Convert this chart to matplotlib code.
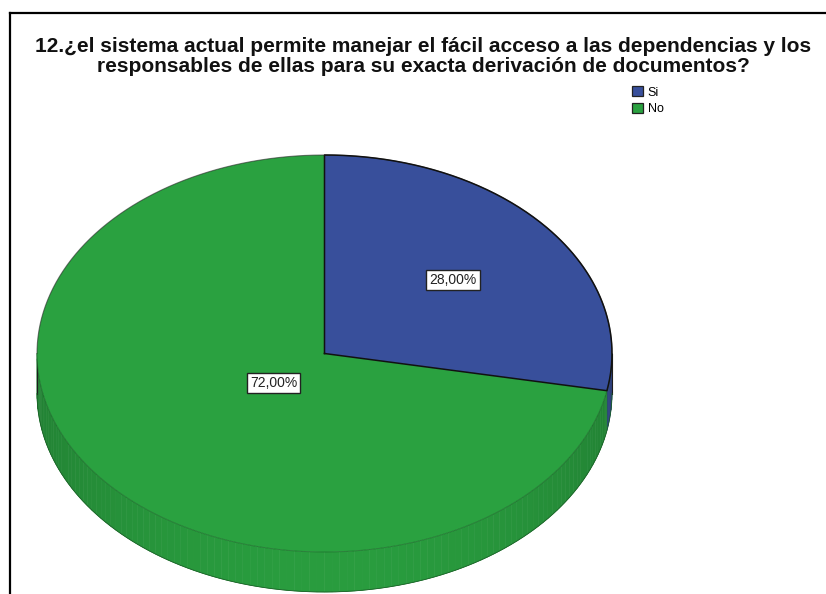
import numpy as np
import matplotlib
matplotlib.use("Agg")
import matplotlib.pyplot as plt
from matplotlib.patches import Polygon, Patch
from matplotlib.lines import Line2D
from matplotlib.colors import to_rgb

# ---- data ----
categories = ["Si", "No"]
values = [28.0, 72.0]
colors = ["#384f9b", "#2aa140"]
title_lines = [
    "12.¿el sistema actual permite manejar el fácil acceso a las dependencias y los",
    "responsables de ellas para su exacta derivación de documentos?",
]

# ---- layout (pixel coordinates, y grows downward) ----
W, H = 826, 594
cx, cy = 324.5, 353.5     # centre of the top face
rx, ry = 287.5, 198.5     # radii of the top ellipse
depth = 40.0              # thickness of the disc
start_angle = 90.0        # first slice starts at 12 o'clock, runs clockwise
label_r = [0.58, 0.23]    # radial position of each value label (fraction of radius)

fig = plt.figure(figsize=(W / 100, H / 100), dpi=100)
ax = fig.add_axes([0, 0, 1, 1])
ax.set_xlim(0, W)
ax.set_ylim(H, 0)
ax.axis("off")


def ell(t_deg, dy=0.0):
    t = np.radians(t_deg)
    return cx + rx * np.cos(t), cy - ry * np.sin(t) + dy


def shade(c, f):
    r, g, b = to_rgb(c)
    return (r * f, g * f, b * f)


# slice angles (clockwise from 12 o'clock)
total = sum(values)
bounds = []
a = start_angle
for v in values:
    b = a - 360.0 * v / total
    bounds.append((a, b))
    a = b

# ---- side wall (front half of the disc, 180..360 deg) ----
for (a0, a1), col in zip(bounds, colors):
    lo, hi = min(a0, a1), max(a0, a1)
    for k in (-360.0, 0.0, 360.0):
        s0, s1 = max(lo + k, 180.0), min(hi + k, 360.0)
        if s1 <= s0:
            continue
        steps = np.arange(s0, s1, 1.5)
        steps = np.append(steps, s1)
        for t0, t1 in zip(steps[:-1], steps[1:]):
            tm = 0.5 * (t0 + t1)
            f = 0.80 + 0.17 * max(0.0, -np.sin(np.radians(tm))) ** 1.5
            x0, y0 = ell(t0)
            x1, y1 = ell(t1)
            poly = Polygon([(x0, y0), (x1, y1), (x1, y1 + depth), (x0, y0 + depth)],
                           closed=True, facecolor=shade(col, f),
                           edgecolor=shade(col, f), linewidth=0.4, zorder=1)
            ax.add_patch(poly)

# dark silhouette at the two ends of the side wall
for t in (180.0, 360.0):
    x, y = ell(t)
    ax.plot([x, x], [y, y + depth], color="#1d1d1d", lw=0.8, zorder=2)
tt = np.linspace(180, 360, 200)
bx, by = ell(tt, depth)
ax.plot(bx, by, color=shade(colors[1], 0.6), lw=0.6, zorder=2)

# ---- top face ----
for (a0, a1), col in zip(bounds, colors):
    ts = np.linspace(a0, a1, 300)
    xs, ys = ell(ts)
    pts = [(cx, cy)] + list(zip(xs, ys))
    ax.add_patch(Polygon(pts, closed=True, facecolor=col, edgecolor="none", zorder=3))

# outline of the top face: darker on the back rim, faint on the front rim
tt = np.linspace(0, 180, 300)
ox, oy = ell(tt)
ax.plot(ox, oy, color="#2a2a2a", lw=0.8, alpha=0.6, zorder=4)
tt = np.linspace(180, 360, 300)
ox, oy = ell(tt)
ax.plot(ox, oy, color=shade(colors[1], 0.55), lw=0.7, alpha=0.5, zorder=4)
# blue slice outline
a0, a1 = bounds[0]
ts = np.linspace(a0, a1, 200)
xs, ys = ell(ts)
ax.plot([cx] + list(xs) + [cx], [cy] + list(ys) + [cy], color="#111111", lw=1.1, zorder=5)

# ---- value labels ----
for (a0, a1), v, r in zip(bounds, values, label_r):
    tm = np.radians(0.5 * (a0 + a1))
    lx = cx + r * rx * np.cos(tm)
    ly = cy - r * ry * np.sin(tm)
    txt = f"{v:.2f}".replace(".", ",") + "%"
    ax.text(lx, ly, txt, ha="center", va="center", fontsize=10,
            family=["Liberation Sans", "DejaVu Sans"], color="#222222", zorder=6,
            bbox=dict(boxstyle="square,pad=0.22", facecolor="white",
                      edgecolor="#222222", linewidth=1.0))

# ---- title ----
for i, line in enumerate(title_lines):
    ax.text(423, 47 + 20 * i, line, ha="center", va="center", fontsize=15,
            fontweight="bold", family=["Liberation Sans", "DejaVu Sans"],
            color="#111111", zorder=6)

# ---- legend ----
handles = [Patch(facecolor=c, edgecolor="#222222", linewidth=0.9) for c in colors]
ax.legend(handles, categories, loc="upper left",
          bbox_to_anchor=(632 / W, 1 - 86 / H), frameon=False,
          handlelength=0.9, handleheight=0.9, handletextpad=0.35,
          labelspacing=0.35, borderpad=0.0, borderaxespad=0.0,
          prop=dict(family=["Liberation Sans", "DejaVu Sans"], size=9))

# ---- outer frame (top and left edges) ----
fig.add_artist(Line2D([9.5 / W, 1.0], [1 - 12.5 / H, 1 - 12.5 / H],
                      transform=fig.transFigure, color="black", lw=1.6))
fig.add_artist(Line2D([9.5 / W, 9.5 / W], [0.0, 1 - 12.5 / H],
                      transform=fig.transFigure, color="black", lw=1.6))

fig.savefig("out.png", dpi=100)
